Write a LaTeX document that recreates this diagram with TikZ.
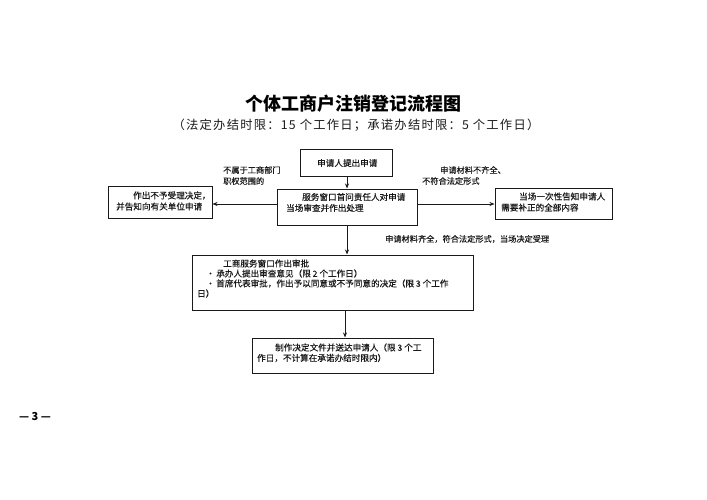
\documentclass[tikz,border=0pt]{standalone}
\usepackage{fontspec}
\setmainfont{Noto Sans CJK SC}
\newfontfamily\bodyfont{Noto Sans CJK SC}[FakeBold=0.4]
\newfontfamily\subfont{Noto Sans CJK SC}[LetterSpace=10]
\usetikzlibrary{arrows.meta}
\definecolor{ink}{HTML}{1a1a1a}
\tikzset{
  box/.style={draw=ink, line width=1pt, rectangle, inner sep=0pt},
  txt/.style={anchor=west, inner sep=0pt, font=\bodyfont\fontsize{8.6}{10}\selectfont, text=ink},
  lbl/.style={anchor=west, inner sep=0pt, font=\bodyfont\fontsize{8.2}{10}\selectfont, text=ink},
  arr/.style={draw=ink, line width=0.8pt, -{Stealth[length=5pt,width=4pt]}}
}
\begin{document}
\begin{tikzpicture}[x=1pt,y=-1pt]
\useasboundingbox (0,0) rectangle (707,500);
% title
\node[inner sep=0pt, font=\fontsize{18}{20}\selectfont\bfseries, text=black] (title) at (353,104) {个体工商户注销登记流程图};
\node[inner sep=0pt, font=\subfont\fontsize{12.3}{14}\selectfont, text=ink] (sub) at (356,125) {（法定办结时限：15 个工作日；承诺办结时限：5 个工作日）};
% boxes
\node[box, minimum width=92pt, minimum height=27pt] (b1) at (346,163.5) {};
\node[box, minimum width=140pt, minimum height=36pt] (b2) at (347,207) {};
\node[box, minimum width=104pt, minimum height=32pt] (bl) at (160,202) {};
\node[box, minimum width=117pt, minimum height=31pt] (br) at (553.5,203.5) {};
\node[box, minimum width=281pt, minimum height=55pt] (b3) at (332.5,282.5) {};
\node[box, minimum width=181pt, minimum height=35pt] (b4) at (342.5,355.5) {};
% box texts
\node[txt] (t1) at (317,163) {申请人提出申请};
\node[txt] (t2a) at (302,197) {服务窗口首问责任人对申请};
\node[txt] (t2b) at (286,208) {当场审查并作出处理};
\node[txt] (tla) at (133,195.5) {作出不予受理决定，};
\node[txt] (tlb) at (116,206.5) {并告知向有关单位申请};
\node[txt] (tra) at (519,196.5) {当场一次性告知申请人};
\node[txt] (trb) at (501,207.5) {需要补正的全部内容};
\node[txt] (t3a) at (223,263.5) {工商服务窗口作出审批};
\node[txt] (t3b) at (206,273.5) {•\,承办人提出审查意见（限 2 个工作日）};
\node[txt] (t3c) at (206,283.5) {•\,首席代表审批，作出予以同意或不予同意的决定（限 3 个工作};
\node[txt] (t3d) at (197,293.5) {日）};
\node[txt] (t4a) at (275,347.5) {制作决定文件并送达申请人（限 3 个工};
\node[txt] (t4b) at (257,358) {作日，不计算在承诺办结时限内）};
% edge labels
\node[lbl] (la1) at (223,170) {不属于工商部门};
\node[lbl] (la2) at (223,181) {职权范围的};
\node[lbl] (lb1) at (440,170) {申请材料不齐全、};
\node[lbl] (lb2) at (422,181) {不符合法定形式};
\node[lbl] (lc) at (385,239) {申请材料齐全，符合法定形式，当场决定受理};
% arrows
\draw[arr] (b1.south -| 347,0) -- (b2.north -| 347,0);
\draw[arr] (b2.west |- 0,204) -- (bl.east |- 0,204);
\draw[arr] (b2.east |- 0,204) -- (br.west |- 0,204);
\draw[arr] (b2.south -| 347,0) -- (b3.north -| 347,0);
\draw[arr] (b3.south -| 345,0) -- (b4.north -| 345,0);
% page number
\node[inner sep=0pt, font=\fontsize{11}{13}\selectfont\bfseries, text=black] (pg) at (35,417) {— 3 —};
\end{tikzpicture}
\end{document}
